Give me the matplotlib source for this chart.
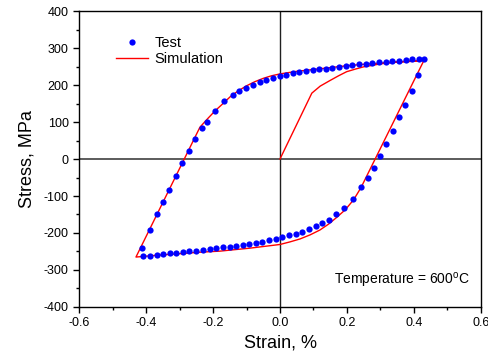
import matplotlib
matplotlib.use("Agg")
import matplotlib.pyplot as plt
from matplotlib.ticker import MultipleLocator, FormatStrFormatter

plt.rcParams['font.family'] = ['Liberation Sans', 'DejaVu Sans']
plt.rcParams['axes.unicode_minus'] = False

# Test data (strain %, stress MPa)
test_strain = [-0.412, -0.387, -0.366, -0.348, -0.330, -0.311, -0.292, -0.273, -0.253, -0.234,
               -0.218, -0.194, -0.167, -0.141, -0.123, -0.101, -0.081, -0.061, -0.041, -0.022,
               -0.001, 0.018, 0.038, 0.058, 0.078, 0.098, 0.116, 0.136, 0.156, 0.176,
               0.196, 0.216, 0.236, 0.256, 0.276, 0.296, 0.315, 0.335, 0.355, 0.375,
               0.395, 0.415, 0.429,
               0.413, 0.393, 0.373, 0.356, 0.336, 0.316, 0.299, 0.280, 0.263, 0.242,
               0.217, 0.192, 0.167, 0.145, 0.126, 0.107, 0.087, 0.067, 0.047, 0.027,
               0.007, -0.013, -0.033, -0.053, -0.072, -0.092, -0.111, -0.131, -0.150, -0.170,
               -0.190, -0.210, -0.230, -0.251, -0.271, -0.290, -0.310, -0.329, -0.349, -0.368,
               -0.387, -0.410]
test_stress = [-240, -191, -150, -116, -84, -46, -10, 22, 54, 83,
               101, 130, 156, 172, 183, 193, 201, 207, 213, 218,
               224, 227, 232, 234, 237, 240, 242, 244, 247, 249,
               251, 254, 256, 258, 259, 261, 262, 264, 266, 268,
               269, 270, 271,
               228, 183, 146, 113, 77, 41, 7, -24, -50, -77,
               -108, -132, -150, -164, -174, -182, -190, -197, -202, -206,
               -211, -215, -219, -223, -227, -230, -232, -234, -237, -239,
               -241, -244, -247, -249, -250, -252, -254, -255, -257, -259,
               -261, -263]

# Simulation curve (initial loading, unloading/reverse loading, reloading)
sim_strain = [0.0, 0.095, 0.120, 0.149, 0.175, 0.199, 0.225, 0.249, 0.275, 0.299,
              0.325, 0.348, 0.375, 0.398, 0.430,
              0.242, 0.230, 0.219, 0.195, 0.169, 0.145, 0.119, 0.090, 0.060, 0.030,
              0.0, -0.045, -0.090, -0.135, -0.179, -0.240, -0.300, -0.365, -0.430,
              -0.239, -0.215, -0.194, -0.170, -0.149, -0.125, -0.0995, -0.075, -0.050,
              -0.025, 0.0, 0.050, 0.100, 0.150, 0.199, 0.250, 0.299, 0.350, 0.398, 0.430]
sim_stress = [0, 178, 197, 212, 225, 236, 243, 249, 253, 257,
              260, 262, 264, 265, 267,
              -77, -95, -111, -137, -158, -176, -192, -205, -216, -224,
              -231, -236, -241, -245, -249, -252, -256, -260, -265,
              86, 110, 130, 150, 168, 184, 198, 209, 218,
              225, 230, 237, 242, 247, 252, 256, 259, 262, 264, 267]

fig = plt.figure(figsize=(4.89, 3.61), dpi=100)
ax = fig.add_axes([0.1616, 0.1496, 0.822, 0.8199])

ax.axhline(0, color='#404040', lw=1.2, zorder=1)
ax.axvline(0, color='#202020', lw=1.0, zorder=1)

ax.plot(test_strain, test_stress, 'o', color='#0000ff', ms=4.5, mec='none',
        label='Test', zorder=3)
ax.plot(sim_strain, sim_stress, '-', color='#ff0000', lw=1.0, label='Simulation', zorder=2)

ax.set_xlim(-0.6, 0.6)
ax.set_ylim(-400, 400)
ax.xaxis.set_major_locator(MultipleLocator(0.2))
ax.xaxis.set_minor_locator(MultipleLocator(0.1))
ax.yaxis.set_major_locator(MultipleLocator(100))
ax.yaxis.set_minor_locator(MultipleLocator(50))
ax.xaxis.set_major_formatter(FormatStrFormatter('%.1f'))
ax.yaxis.set_major_formatter(FormatStrFormatter('%d'))
ax.tick_params(which='major', direction='out', length=4, width=1, labelsize=9,
               top=False, right=False)
ax.tick_params(which='minor', direction='out', length=2.5, width=1, top=False, right=False)
for s in ax.spines.values():
    s.set_linewidth(1.0)

ax.set_xlabel('Strain, %', fontsize=13, labelpad=4)
ax.set_ylabel('Stress, MPa', fontsize=13, labelpad=6)

ax.legend(loc='upper left', bbox_to_anchor=(0.06, 0.96), frameon=False, fontsize=10.5,
          handlelength=2.2, handletextpad=0.4, labelspacing=0.15, numpoints=1)

ax.text(0.973, 0.091, 'Temperature = 600$^{\\mathregular{o}}$C', transform=ax.transAxes,
        ha='right', va='center', fontsize=10)

fig.savefig('out.png', dpi=100)
